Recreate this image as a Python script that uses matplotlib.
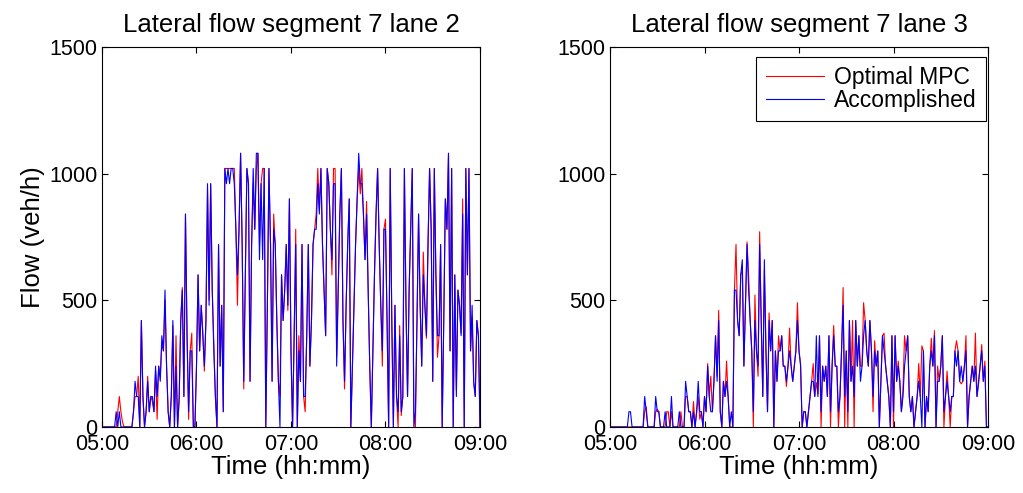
import numpy as np
import matplotlib
matplotlib.use('Agg')
import matplotlib.pyplot as plt

# Data: lateral flow (veh/h) per minute, 05:00 .. 09:00
minutes = np.arange(0, 241)
tick_pos = [0, 60, 120, 180, 240]
tick_labels = ['05:00', '06:00', '07:00', '08:00', '09:00']
titles = ['Lateral flow segment 7 lane 2', 'Lateral flow segment 7 lane 3']

# lane 2 - optimal MPC
mpc_lane2 = [0, 0, 0, 0, 0, 0, 0, 0, 0, 0,
             60, 120, 60, 20, 0, 0, 0, 0, 0, 0,
             60, 120, 120, 200, 0, 420, 120, 0, 60, 200,
             60, 120, 100, 60, 220, 30, 240, 200, 330, 300,
             500, 240, 60, 0, 120, 400, 0, 360, 0, 100,
             420, 550, 120, 840, 360, 30, 300, 370, 0, 0,
             240, 600, 300, 480, 380, 220, 420, 935, 500, 960,
             540, 330, 120, 0, 720, 240, 480, 60, 1020, 1020,
             1020, 1020, 1020, 1020, 1020, 780, 480, 780, 1080, 720,
             150, 600, 1020, 960, 180, 720, 960, 780, 1020, 1080,
             720, 960, 1020, 1020, 0, 480, 1020, 720, 180, 840,
             720, 420, 180, 120, 600, 420, 540, 720, 460, 900,
             300, 0, 360, 780, 0, 360, 180, 720, 120, 60,
             360, 720, 240, 420, 720, 780, 840, 1020, 860, 1020,
             720, 540, 360, 1020, 960, 780, 600, 1020, 1020, 280,
             560, 840, 1020, 420, 150, 480, 720, 900, 0, 240,
             480, 720, 900, 1020, 920, 1020, 840, 660, 890, 540,
             240, 0, 300, 600, 840, 1020, 720, 480, 240, 780,
             820, 420, 0, 1020, 420, 0, 480, 120, 0, 400,
             45, 120, 1020, 480, 120, 540, 780, 1020, 60, 0,
             420, 840, 480, 240, 690, 480, 350, 720, 1020, 780,
             180, 1020, 600, 275, 360, 720, 0, 420, 900, 780,
             1080, 300, 1020, 0, 600, 145, 540, 480, 370, 900,
             0, 1020, 600, 1020, 300, 435, 170, 120, 420, 360,
             0]

# lane 2 - accomplished
acc_lane2 = [0, 0, 0, 0, 0, 0, 0, 0, 0, 60,
             0, 60, 0, 0, 0, 0, 0, 0, 0, 0,
             60, 180, 120, 120, 0, 420, 120, 0, 60, 180,
             60, 120, 120, 60, 240, 120, 240, 180, 360, 300,
             540, 240, 60, 0, 120, 420, 0, 240, 0, 120,
             420, 540, 120, 840, 360, 60, 300, 300, 0, 0,
             240, 600, 300, 480, 360, 240, 420, 960, 480, 960,
             540, 300, 120, 0, 720, 240, 480, 60, 1020, 960,
             1020, 960, 1020, 1020, 960, 780, 600, 780, 1080, 720,
             180, 600, 1020, 960, 180, 720, 1020, 780, 1080, 1080,
             660, 960, 660, 1020, 0, 480, 1020, 720, 180, 780,
             720, 420, 180, 0, 600, 420, 540, 720, 480, 900,
             300, 0, 360, 720, 0, 300, 180, 720, 120, 120,
             360, 720, 240, 420, 720, 780, 780, 960, 840, 1020,
             720, 540, 360, 1020, 960, 780, 660, 960, 960, 240,
             540, 840, 1020, 420, 180, 480, 720, 900, 0, 240,
             480, 720, 900, 1080, 960, 960, 840, 660, 840, 540,
             240, 0, 300, 600, 840, 1020, 720, 480, 300, 780,
             780, 420, 0, 1020, 420, 0, 480, 120, 60, 360,
             60, 120, 1020, 480, 120, 540, 780, 1020, 0, 60,
             420, 840, 480, 240, 600, 480, 360, 720, 1020, 780,
             180, 1020, 600, 360, 360, 720, 0, 420, 900, 780,
             1080, 300, 1020, 0, 600, 120, 540, 480, 360, 840,
             0, 1020, 600, 1020, 300, 480, 180, 120, 420, 360,
             0]

# lane 3 - optimal MPC
mpc_lane3 = [0, 0, 0, 0, 0, 0, 0, 0, 0, 0,
             0, 0, 0, 0, 0, 0, 0, 0, 0, 0,
             0, 0, 60, 80, 0, 0, 0, 0, 0, 60,
             70, 60, 0, 0, 0, 0, 60, 60, 0, 60,
             0, 0, 0, 0, 0, 60, 0, 0, 120, 120,
             60, 60, 0, 100, 0, 60, 120, 30, 60, 0,
             120, 60, 250, 120, 200, 60, 180, 360, 200, 460,
             60, 0, 180, 120, 260, 120, 0, 0, 0, 540,
             720, 420, 360, 600, 620, 240, 480, 730, 600, 420,
             300, 0, 520, 300, 200, 770, 420, 120, 620, 300,
             60, 450, 300, 420, 0, 300, 180, 360, 300, 360,
             240, 240, 160, 240, 390, 240, 180, 240, 300, 490,
             300, 250, 0, 60, 60, 0, 60, 120, 180, 250,
             120, 175, 130, 360, 0, 240, 180, 240, 120, 360,
             0, 240, 400, 240, 240, 0, 120, 300, 550, 0,
             300, 0, 420, 180, 420, 0, 420, 240, 360, 240,
             240, 490, 420, 300, 240, 420, 300, 60, 340, 240,
             300, 0, 180, 360, 370, 240, 180, 120, 0, 360,
             0, 360, 180, 260, 180, 60, 145, 360, 300, 360,
             120, 60, 120, 0, 60, 120, 250, 120, 320, 300,
             0, 120, 60, 240, 350, 240, 380, 0, 240, 180,
             240, 360, 0, 120, 220, 120, 0, 120, 120, 300,
             340, 300, 180, 170, 180, 240, 360, 0, 120, 180,
             240, 180, 370, 120, 170, 240, 325, 180, 260, 0,
             0]

# lane 3 - accomplished
acc_lane3 = [0, 0, 0, 0, 0, 0, 0, 0, 0, 0,
             0, 0, 60, 60, 0, 0, 0, 0, 0, 0,
             0, 0, 120, 60, 0, 0, 0, 0, 0, 120,
             60, 60, 0, 0, 0, 60, 0, 0, 0, 120,
             0, 0, 0, 0, 60, 0, 0, 0, 180, 120,
             60, 60, 0, 60, 0, 60, 180, 60, 60, 0,
             120, 60, 240, 120, 60, 60, 180, 360, 180, 420,
             60, 0, 180, 120, 180, 120, 0, 60, 0, 540,
             540, 420, 360, 600, 660, 240, 480, 720, 540, 420,
             300, 60, 420, 300, 240, 720, 420, 120, 660, 300,
             60, 420, 300, 420, 0, 300, 180, 300, 300, 360,
             240, 240, 180, 240, 300, 240, 180, 240, 300, 420,
             300, 240, 0, 60, 60, 0, 60, 120, 180, 180,
             120, 360, 120, 360, 60, 240, 180, 240, 120, 360,
             60, 240, 360, 240, 240, 60, 120, 300, 480, 120,
             300, 60, 420, 180, 240, 120, 420, 240, 360, 180,
             240, 360, 420, 300, 240, 420, 300, 120, 300, 240,
             300, 0, 180, 360, 300, 240, 180, 120, 0, 360,
             60, 360, 180, 240, 180, 60, 120, 240, 300, 360,
             120, 60, 120, 0, 60, 120, 180, 120, 0, 300,
             0, 120, 60, 240, 300, 240, 360, 0, 180, 180,
             240, 360, 60, 120, 180, 120, 60, 120, 120, 300,
             240, 300, 180, 240, 180, 240, 300, 0, 120, 180,
             240, 180, 240, 120, 180, 240, 300, 180, 240, 0,
             0]

plt.rcParams['font.family'] = ['Liberation Sans', 'DejaVu Sans']

fig = plt.figure(figsize=(10.23, 4.93), dpi=100)
ax1 = fig.add_axes([0.0997, 0.134, 0.3695, 0.771])
ax2 = fig.add_axes([0.5963, 0.134, 0.3695, 0.771])

for ax, mpc, acc, title in [(ax1, mpc_lane2, acc_lane2, titles[0]),
                            (ax2, mpc_lane3, acc_lane3, titles[1])]:
    ax.plot(minutes, mpc, color='r', lw=0.8, label='Optimal MPC')
    ax.plot(minutes, acc, color='b', lw=0.8, label='Accomplished')
    ax.set_xlim(0, 240)
    ax.set_ylim(0, 1500)
    ax.set_xticks(tick_pos)
    ax.set_xticklabels(tick_labels)
    ax.set_yticks([0, 500, 1000, 1500])
    ax.tick_params(direction='in', top=True, right=True, labelsize=15.5,
                   length=4.5, width=0.8)
    ax.tick_params(axis='x', pad=5)
    ax.set_title(title, fontsize=18.5, pad=11)
    ax.set_xlabel('Time (hh:mm)', fontsize=18.5, labelpad=0)
    for s in ax.spines.values():
        s.set_linewidth(0.8)

ax1.set_ylabel('Flow (veh/h)', fontsize=18.5, labelpad=3)

leg = ax2.legend(loc='upper right', bbox_to_anchor=(0.995, 0.974),
                 borderaxespad=0, fontsize=16.5, fancybox=False,
                 edgecolor='black', framealpha=1, handlelength=2.55,
                 handletextpad=0.45, borderpad=0.4, labelspacing=0.0)
leg.get_frame().set_linewidth(0.8)

fig.savefig('out.png', dpi=100)
